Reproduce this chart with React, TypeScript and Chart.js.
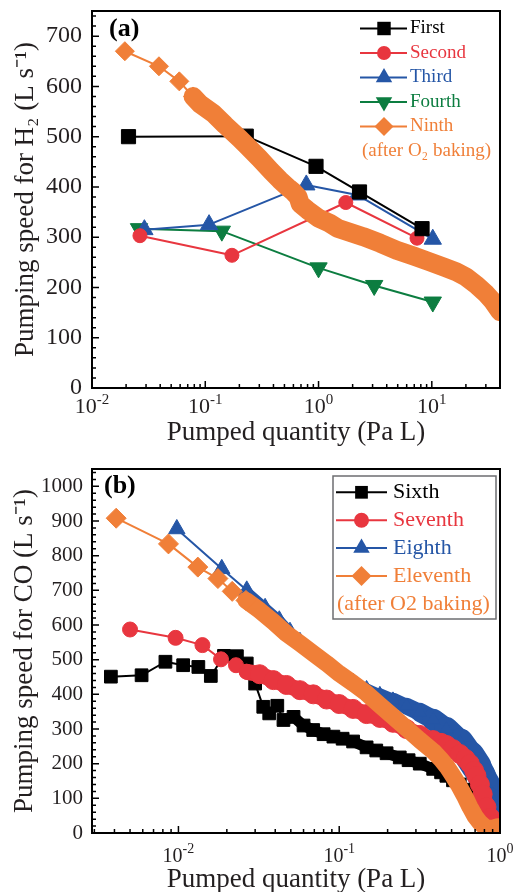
import React, { useEffect, useRef } from 'react';
import { Chart, registerables } from 'chart.js';

Chart.register(...registerables);

const SERIF = "'Liberation Serif', 'Times New Roman', Times, serif";
const INK = '#231f20';
const BLACK = '#000000';
const RED = '#E8363F';
const BLUE = '#2556A6';
const GREEN = '#0C7D40';
const ORANGE = '#F07F38';

// ---------------- Panel (a): H2 ----------------
const aXMin = 0.01;
const aXMax = 40;
const aYMax = 750;
const aXTickExp = [-2, -1, 0, 1];

const aFirstX = [0.021, 0.23, 0.95, 2.3, 8.2];
const aFirstY = [500, 501, 441, 390, 317];

const aSecondX = [0.0265, 0.172, 1.74, 7.4];
const aSecondY = [303, 264, 369, 298];

const aThirdX = [0.029, 0.108, 0.78, 2.2, 10.2];
const aThirdY = [315, 325, 404, 384, 296];

const aFourthX = [0.026, 0.14, 1.0, 3.1, 10.2];
const aFourthY = [317, 312, 239, 204, 171];

const aNinthX = [0.0195, 0.039, 0.059, 0.078, 0.09, 0.118, 0.15, 0.2, 0.231, 0.3, 0.38, 0.455, 0.55, 0.6, 0.66, 0.69, 0.8, 1.0, 1.25, 1.47, 2.48, 3.5, 4.89, 7, 9.6, 13, 16.5, 20, 24.8, 30, 34.7, 40];
const aNinthY = [670, 640, 610, 580, 565, 546, 523, 497, 483, 457, 432, 414, 397, 390, 380, 366, 354, 338, 328, 318, 301, 288, 274, 262, 251, 240, 231, 221, 205, 188, 172, 152];

const aLegendNames = ['First', 'Second', 'Third', 'Fourth', 'Ninth'];
const aLegendNote = '(after O\u2082 baking)';

// ---------------- Panel (b): CO ----------------
const bXMin = 0.0029;
const bXMax = 1;
const bYMax = 1050;
const bXTickExp = [-2, -1, 0];

const bSixthX = [0.0038, 0.0059, 0.0083, 0.0107, 0.0133, 0.0159, 0.0192, 0.0231, 0.0266, 0.030, 0.0337, 0.0367, 0.0412, 0.045, 0.052, 0.06, 0.0689, 0.08, 0.092, 0.105, 0.122, 0.148, 0.17, 0.197, 0.238, 0.27, 0.317, 0.384, 0.43, 0.464, 0.51, 0.562, 0.62, 0.679, 0.73, 0.78, 0.83];
const bSixthY = [451, 455, 494, 484, 479, 453, 511, 510, 489, 431, 364, 345, 367, 326, 335, 310, 297, 285, 278, 272, 264, 247, 238, 230, 218, 210, 200, 185, 175, 165, 152, 140, 125, 110, 92, 70, 30];

const bSeventhX = [0.0050, 0.0096, 0.0141, 0.0184, 0.0228, 0.0266, 0.032, 0.039, 0.047, 0.057, 0.069, 0.0835, 0.1, 0.122, 0.148, 0.179, 0.216, 0.262, 0.317, 0.384, 0.43, 0.464, 0.51, 0.562, 0.61, 0.649, 0.69, 0.714, 0.75, 0.78, 0.824, 0.87, 0.93, 0.98];
const bSeventhY = [587, 563, 542, 501, 484, 465, 458, 441, 427, 412, 400, 385, 372, 358, 343, 332, 318, 300, 283, 268, 260, 254, 242, 228, 214, 200, 180, 165, 140, 112, 75, 45, 25, 18];

const bEighthX = [0.00977, 0.0186, 0.0266, 0.0346, 0.0424, 0.0494, 0.057, 0.069, 0.0835, 0.1, 0.122, 0.148, 0.179, 0.216, 0.262, 0.317, 0.384, 0.464, 0.562, 0.649, 0.714, 0.767, 0.824, 0.9, 0.97];
const bEighthY = [877, 762, 700, 654, 618, 585, 556, 522, 490, 462, 437, 417, 400, 384, 366, 348, 327, 299, 262, 222, 192, 166, 140, 95, 45];

const bEleventhX = [0.0041, 0.00867, 0.0132, 0.0176, 0.0216, 0.0263, 0.032, 0.039, 0.047, 0.057, 0.069, 0.0835, 0.1, 0.122, 0.148, 0.179, 0.216, 0.262, 0.317, 0.384, 0.43, 0.47, 0.51, 0.55, 0.6, 0.65, 0.7, 0.75, 0.82, 0.9, 0.97];
const bEleventhY = [908, 834, 767, 734, 697, 671, 642, 609, 575, 547, 518, 489, 460, 432, 403, 369, 336, 302, 268, 236, 212, 190, 165, 140, 108, 75, 48, 30, 14, 14, 18];

const bLegendNames = ['Sixth', 'Seventh', 'Eighth', 'Eleventh'];
const bLegendNote = '(after O2 baking)';

// blue band thickness stops (x value -> stroke width)
const bBlueWidthStopsX = [0.12, 0.25, 0.45, 0.65, 0.85, 1.0];
const bBlueWidthStopsW = [8, 16, 24, 30, 26, 16];

type Shape = 'rect' | 'circle' | 'triangle' | 'rectRot';

interface SeriesSpec {
  label: string;
  xs: number[];
  ys: number[];
  color: string;
  shape: Shape;
  rotation?: number;
  r: number;
  nSparse: number;
  rDense: number;
  band: (x: number) => number;
  order: number;
}

function widthFromStops(x: number): number {
  const lx = Math.log10(x);
  const sx = bBlueWidthStopsX.map((v) => Math.log10(v));
  if (lx <= sx[0]) return bBlueWidthStopsW[0];
  for (let i = 1; i < sx.length; i++) {
    if (lx <= sx[i]) {
      const t = (lx - sx[i - 1]) / (sx[i] - sx[i - 1]);
      return bBlueWidthStopsW[i - 1] + t * (bBlueWidthStopsW[i] - bBlueWidthStopsW[i - 1]);
    }
  }
  return bBlueWidthStopsW[bBlueWidthStopsW.length - 1];
}

function makeDataset(s: SeriesSpec) {
  return {
    label: s.label,
    data: s.xs.map((x, i) => ({ x, y: s.ys[i] })),
    borderColor: s.color,
    backgroundColor: s.color,
    pointBackgroundColor: s.color,
    pointBorderColor: s.color,
    pointBorderWidth: 1,
    pointStyle: s.shape,
    pointRotation: s.rotation || 0,
    pointRadius: (ctx: any) => (ctx.dataIndex < s.nSparse ? s.r : s.rDense),
    pointHoverRadius: (ctx: any) => (ctx.dataIndex < s.nSparse ? s.r : s.rDense),
    borderWidth: 2,
    segment: {
      borderWidth: (ctx: any) => (ctx.p1DataIndex < s.nSparse ? 2 : s.band(ctx.p0.parsed.x)),
    },
    borderCapStyle: 'round',
    borderJoinStyle: 'round',
    tension: 0,
    clip: 0,
    order: s.order,
  };
}

function markerPath(ctx: CanvasRenderingContext2D, shape: Shape, rot: number, x: number, y: number, r: number) {
  ctx.beginPath();
  if (shape === 'rect') {
    const s = r * Math.SQRT1_2;
    ctx.rect(x - s, y - s, 2 * s, 2 * s);
  } else if (shape === 'circle') {
    ctx.arc(x, y, r, 0, Math.PI * 2);
  } else if (shape === 'rectRot') {
    ctx.moveTo(x - r, y);
    ctx.lineTo(x, y - r);
    ctx.lineTo(x + r, y);
    ctx.lineTo(x, y + r);
    ctx.closePath();
  } else {
    let rad = (rot * Math.PI) / 180;
    ctx.moveTo(x + Math.sin(rad) * r, y - Math.cos(rad) * r);
    rad += (2 * Math.PI) / 3;
    ctx.lineTo(x + Math.sin(rad) * r, y - Math.cos(rad) * r);
    rad += (2 * Math.PI) / 3;
    ctx.lineTo(x + Math.sin(rad) * r, y - Math.cos(rad) * r);
    ctx.closePath();
  }
}

const decoPlugin = {
  id: 'deco',
  afterDatasetsDraw(chart: any, _args: any, o: any) {
    const { ctx, chartArea: ca } = chart;
    const xs = chart.scales.x;
    const ys = chart.scales.y;
    ctx.save();
    // frame
    ctx.strokeStyle = '#000';
    ctx.lineWidth = 2;
    ctx.strokeRect(ca.left, ca.top, ca.right - ca.left, ca.bottom - ca.top);
    // inward ticks
    ctx.lineWidth = 1.5;
    ctx.beginPath();
    for (let v = 0; v <= ys.max + 1e-9; v += o.yMinor) {
      const py = ys.getPixelForValue(v);
      const len = Math.abs(v % o.yMajor) < 1e-6 ? 7 : 4;
      ctx.moveTo(ca.left, py);
      ctx.lineTo(ca.left + len, py);
    }
    const d0 = Math.floor(Math.log10(xs.min));
    const d1 = Math.ceil(Math.log10(xs.max));
    for (let d = d0; d <= d1; d++) {
      for (let m = 1; m <= 9; m++) {
        const v = m * Math.pow(10, d);
        if (v < xs.min * 0.999 || v > xs.max * 1.001) continue;
        const px = xs.getPixelForValue(v);
        const len = m === 1 ? 7 : 4;
        ctx.moveTo(px, ca.bottom);
        ctx.lineTo(px, ca.bottom - len);
      }
    }
    ctx.stroke();

    // x tick labels 10^n
    ctx.fillStyle = INK;
    ctx.textBaseline = 'alphabetic';
    ctx.textAlign = 'left';
    for (const e of o.xExp) {
      const px = xs.getPixelForValue(Math.pow(10, e));
      const base = `${o.xBase}px ${SERIF}`;
      const sup = `${o.xSup}px ${SERIF}`;
      ctx.font = base;
      const wb = ctx.measureText('10').width;
      ctx.font = sup;
      const se = String(e);
      const ws = ctx.measureText(se).width;
      const x0 = px - (wb + ws) / 2;
      ctx.font = base;
      ctx.fillText('10', x0, ca.bottom + o.xLabelDy);
      ctx.font = sup;
      ctx.fillText(se, x0 + wb, ca.bottom + o.xLabelDy - o.xSupRise);
    }

    // panel tag
    ctx.font = `bold ${o.tagSize}px ${SERIF}`;
    ctx.fillStyle = '#000';
    ctx.textBaseline = 'middle';
    ctx.fillText(o.tag, o.tagX, o.tagY);

    // legend
    const L = o.legend;
    if (L.box) {
      ctx.strokeStyle = '#6d6e71';
      ctx.lineWidth = 1.5;
      ctx.strokeRect(L.box[0], L.box[1], L.box[2] - L.box[0], L.box[3] - L.box[1]);
    }
    ctx.font = `${L.size}px ${SERIF}`;
    ctx.textBaseline = 'middle';
    L.items.forEach((it: any, i: number) => {
      const y = L.y0 + i * L.dy;
      ctx.strokeStyle = it.color;
      ctx.lineWidth = 2;
      ctx.beginPath();
      ctx.moveTo(L.lineX0, y);
      ctx.lineTo(L.lineX1, y);
      ctx.stroke();
      ctx.fillStyle = it.color;
      markerPath(ctx, it.shape, it.rotation || 0, L.markX, y, it.r);
      ctx.fill();
      ctx.fillText(it.label, L.textX, y);
    });
    if (L.note) {
      ctx.fillStyle = L.noteColor;
      ctx.fillText(L.note, L.noteX, L.y0 + L.items.length * L.dy);
    }
    ctx.restore();
  },
};

const fine = () => 2;
const plainTick = (v: any) => String(v);
const fitY = (s: any) => { s.width = 92; s.paddingTop = 0; s.paddingBottom = 0; };

function buildA() {
  const series: SeriesSpec[] = [
    { label: aLegendNames[4], xs: aNinthX, ys: aNinthY, color: ORANGE, shape: 'rectRot', r: 9.5, nSparse: 4, rDense: 0, band: () => 19, order: 0 },
    { label: aLegendNames[0], xs: aFirstX, ys: aFirstY, color: BLACK, shape: 'rect', r: 10, nSparse: 99, rDense: 0, band: fine, order: 1 },
    { label: aLegendNames[1], xs: aSecondX, ys: aSecondY, color: RED, shape: 'circle', r: 7, nSparse: 99, rDense: 0, band: fine, order: 2 },
    { label: aLegendNames[2], xs: aThirdX, ys: aThirdY, color: BLUE, shape: 'triangle', r: 10, nSparse: 99, rDense: 0, band: fine, order: 3 },
    { label: aLegendNames[3], xs: aFourthX, ys: aFourthY, color: GREEN, shape: 'triangle', rotation: 180, r: 10, nSparse: 99, rDense: 0, band: fine, order: 4 },
  ];
  const byName = (n: string) => series.find((s) => s.label === n)!;
  return {
    type: 'line',
    data: { datasets: series.map(makeDataset) },
    plugins: [decoPlugin],
    options: {
      responsive: false,
      animation: false,
      events: [],
      layout: { padding: { left: 0, right: 27, top: 11, bottom: 0 } },
      plugins: {
        legend: { display: false },
        tooltip: { enabled: false },
        deco: {
          yMinor: 20, yMajor: 100,
          xExp: aXTickExp, xBase: 22, xSup: 15, xLabelDy: 25, xSupRise: 9,
          tag: '(a)', tagSize: 26, tagX: 109, tagY: 29,
          legend: {
            box: null, size: 19, y0: 28.5, dy: 24.5,
            lineX0: 360, lineX1: 407, markX: 384, textX: 410,
            items: aLegendNames.map((n) => { const s = byName(n); return { label: n, color: s.color, shape: s.shape, rotation: s.rotation, r: Math.min(s.r, 9.5) }; }),
            note: aLegendNote, noteX: 362, noteColor: ORANGE,
          },
        },
      },
      scales: {
        x: {
          type: 'logarithmic', min: aXMin, max: aXMax,
          ticks: { display: false },
          grid: { display: false, drawTicks: false },
          border: { display: false },
          title: { display: true, text: 'Pumped quantity (Pa L)', color: INK, font: { family: SERIF, size: 27, lineHeight: 1.2 }, padding: { top: 0, bottom: 1 } },
          afterFit: (s: any) => { s.height = 62; s.paddingLeft = 0; s.paddingRight = 0; },
        },
        y: {
          type: 'linear', min: 0, max: aYMax,
          ticks: { stepSize: 100, includeBounds: false, color: INK, font: { family: SERIF, size: 24 }, padding: 10, callback: plainTick },
          grid: { display: false, drawTicks: false },
          border: { display: false },
          title: { display: true, text: 'Pumping speed for H\u2082 (L s\u207B\u00B9)', color: INK, font: { family: SERIF, size: 27, lineHeight: 1.2 }, padding: { top: 10, bottom: 0 } },
          afterFit: fitY,
        },
      },
    },
  };
}

function buildB() {
  const series: SeriesSpec[] = [
    { label: bLegendNames[3], xs: bEleventhX, ys: bEleventhY, color: ORANGE, shape: 'rectRot', r: 10, nSparse: 6, rDense: 0, band: () => 17, order: 0 },
    { label: bLegendNames[1], xs: bSeventhX, ys: bSeventhY, color: RED, shape: 'circle', r: 7.5, nSparse: 6, rDense: 9.5, band: () => 16, order: 1 },
    { label: bLegendNames[0], xs: bSixthX, ys: bSixthY, color: BLACK, shape: 'rect', r: 9, nSparse: 14, rDense: 9, band: () => 11, order: 2 },
    { label: bLegendNames[2], xs: bEighthX, ys: bEighthY, color: BLUE, shape: 'triangle', r: 9.5, nSparse: 3, rDense: 8, band: widthFromStops, order: 3 },
  ];
  const byName = (n: string) => series.find((s) => s.label === n)!;
  return {
    type: 'line',
    data: { datasets: series.map(makeDataset) },
    plugins: [decoPlugin],
    options: {
      responsive: false,
      animation: false,
      events: [],
      layout: { padding: { left: 0, right: 27, top: 19, bottom: 0 } },
      plugins: {
        legend: { display: false },
        tooltip: { enabled: false },
        deco: {
          yMinor: 20, yMajor: 100,
          xExp: bXTickExp, xBase: 20, xSup: 14, xLabelDy: 29, xSupRise: 9,
          tag: '(b)', tagSize: 26, tagX: 104, tagY: 36,
          legend: {
            box: [333, 26, 496, 169], size: 22, y0: 42.3, dy: 27.9,
            lineX0: 336, lineX1: 387, markX: 361.5, textX: 393,
            items: bLegendNames.map((n) => { const s = byName(n); return { label: n, color: s.color, shape: s.shape, rotation: s.rotation, r: s.r }; }),
            note: bLegendNote, noteX: 337, noteColor: ORANGE,
          },
        },
      },
      scales: {
        x: {
          type: 'logarithmic', min: bXMin, max: bXMax,
          ticks: { display: false },
          grid: { display: false, drawTicks: false },
          border: { display: false },
          title: { display: true, text: 'Pumped quantity (Pa L)', color: INK, font: { family: SERIF, size: 27, lineHeight: 0.8 }, padding: { top: 0, bottom: 1 } },
          afterFit: (s: any) => { s.height = 59; s.paddingLeft = 0; s.paddingRight = 0; },
        },
        y: {
          type: 'linear', min: 0, max: bYMax,
          ticks: { stepSize: 100, includeBounds: false, color: INK, font: { family: SERIF, size: 21 }, padding: 9, callback: plainTick },
          grid: { display: false, drawTicks: false },
          border: { display: false },
          title: { display: true, text: 'Pumping speed for CO (L s\u207B\u00B9)', color: INK, font: { family: SERIF, size: 27, lineHeight: 1.2 }, padding: { top: 9, bottom: 0 } },
          afterFit: fitY,
        },
      },
    },
  };
}

function Panel({ height, build }: { height: number; build: () => any }) {
  const ref = useRef<HTMLCanvasElement | null>(null);
  useEffect(() => {
    if (!ref.current) return;
    const chart = new Chart(ref.current, build());
    return () => chart.destroy();
  }, [build]);
  return <canvas ref={ref} width={527} height={height} style={{ display: 'block', width: 527, height }} />;
}

export default function App() {
  useEffect(() => {
    document.body.style.margin = '0';
    document.body.style.background = '#ffffff';
  }, []);
  return (
    <div style={{ width: 527, height: 892, overflow: 'hidden', background: '#fff' }}>
      <Panel height={450} build={buildA} />
      <Panel height={442} build={buildB} />
    </div>
  );
}
